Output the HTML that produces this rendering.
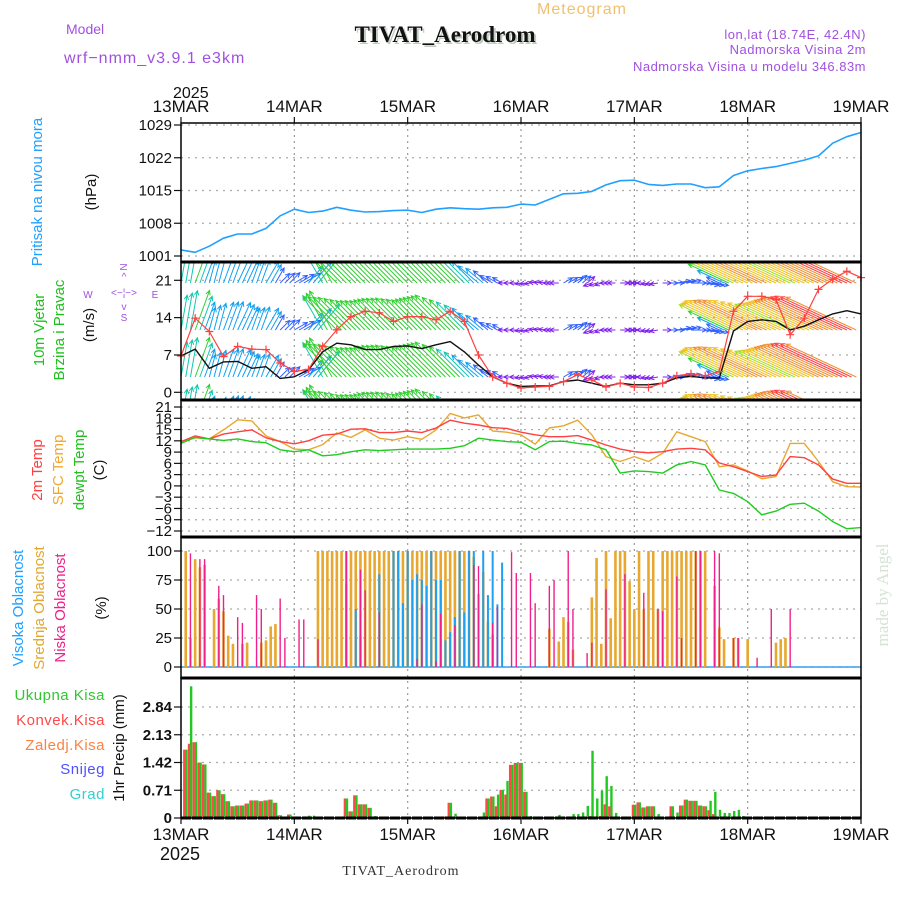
<!DOCTYPE html>
<html><head><meta charset="utf-8"><style>
html,body{margin:0;padding:0;background:#fff;}
svg{display:block;font-family:"Liberation Sans",sans-serif;}
</style></head><body>
<svg id="chart" width="900" height="900" viewBox="0 0 900 900" xmlns="http://www.w3.org/2000/svg">
<defs>
<clipPath id="clipWind"><rect x="181" y="263" width="680" height="136"/></clipPath>
</defs>
<!-- header -->
<text x="582" y="14" font-size="16" fill="#f0c070" text-anchor="middle" letter-spacing="1">Meteogram</text>
<text x="66" y="34" font-size="14" fill="#a050e0">Model</text>
<text x="64" y="63" font-size="16" fill="#a050e0" letter-spacing="1">wrf−nmm_v3.9.1 e3km</text>
<text x="447" y="44" font-size="23" font-weight="bold" font-family="Liberation Serif,serif" fill="#9a9" text-anchor="middle" opacity="0.6">TIVAT_Aerodrom</text>
<text x="445" y="42" font-size="23" font-weight="bold" font-family="Liberation Serif,serif" fill="#111" text-anchor="middle">TIVAT_Aerodrom</text>
<text x="866" y="39" font-size="13" fill="#a050e0" text-anchor="end" letter-spacing="0.5">lon,lat (18.74E, 42.4N)</text>
<text x="866" y="54" font-size="13" fill="#a050e0" text-anchor="end" letter-spacing="0.5">Nadmorska Visina 2m</text>
<text x="866" y="71" font-size="13" fill="#a050e0" text-anchor="end" letter-spacing="0.5">Nadmorska Visina u modelu 346.83m</text>
<text x="173" y="98" font-size="16" fill="#111">2025</text>
<text x="180" y="860" font-size="18" fill="#111" text-anchor="middle">2025</text>
<text x="401" y="875" font-size="14" font-family="Liberation Serif,serif" fill="#333" text-anchor="middle" letter-spacing="1">TIVAT_Aerodrom</text>
<text transform="translate(888,595) rotate(-90)" font-size="17" font-family="Liberation Serif,serif" fill="#d5e3d5" text-anchor="middle">made by Angel</text>

<!-- left axis labels -->
<text transform="translate(42,192) rotate(-90)" font-size="15" fill="#20a0ff" text-anchor="middle">Pritisak na nivou mora</text>
<text transform="translate(96,192) rotate(-90)" font-size="15" fill="#111" text-anchor="middle">(hPa)</text>
<text transform="translate(44,330) rotate(-90)" font-size="15" fill="#20c020" text-anchor="middle">10m Vjetar</text>
<text transform="translate(64,330) rotate(-90)" font-size="15" fill="#20c020" text-anchor="middle">Brzina i Pravac</text>
<text transform="translate(94,325) rotate(-90)" font-size="15" fill="#111" text-anchor="middle">(m/s)</text>
<g fill="#a050e0" font-size="10">
<text x="124" y="270" text-anchor="middle" transform="rotate(-90 124 267)">N</text>
<text x="124" y="280" text-anchor="middle">^</text>
<text x="124" y="296" text-anchor="middle">&lt;−¦−&gt;</text>
<text x="88" y="298" text-anchor="middle">W</text>
<text x="155" y="298" text-anchor="middle">E</text>
<text x="124" y="310" text-anchor="middle">v</text>
<text x="124" y="321" text-anchor="middle">S</text>
</g>
<text transform="translate(42,470) rotate(-90)" font-size="15" fill="#ff4040" text-anchor="middle">2m Temp</text>
<text transform="translate(63,470) rotate(-90)" font-size="15" fill="#f0a830" text-anchor="middle">SFC Temp</text>
<text transform="translate(84,470) rotate(-90)" font-size="15" fill="#20c020" text-anchor="middle">dewpt Temp</text>
<text transform="translate(104,470) rotate(-90)" font-size="15" fill="#111" text-anchor="middle">(C)</text>
<text transform="translate(23,608) rotate(-90)" font-size="15" fill="#20a0ff" text-anchor="middle">Visoka Oblacnost</text>
<text transform="translate(44,608) rotate(-90)" font-size="15" fill="#e0a830" text-anchor="middle">Srednja Oblacnost</text>
<text transform="translate(65,608) rotate(-90)" font-size="15" fill="#f0208a" text-anchor="middle">Niska Oblacnost</text>
<text transform="translate(106,608) rotate(-90)" font-size="15" fill="#111" text-anchor="middle">(%)</text>
<g font-size="15" text-anchor="end" letter-spacing="0.5">
<text x="105" y="700" fill="#30c830">Ukupna Kisa</text>
<text x="105" y="725" fill="#ff4848">Konvek.Kisa</text>
<text x="105" y="750" fill="#ff8040">Zaledj.Kisa</text>
<text x="105" y="774" fill="#5050ff">Snijeg</text>
<text x="105" y="799" fill="#30d0d0">Grad</text>
</g>
<text transform="translate(124,748) rotate(-90)" font-size="15" fill="#111" text-anchor="middle">1hr Precip (mm)</text>

<g id="grid"></g>
<g id="marks"></g>
<g id="frames"></g>
</svg>
<script>
// ---- data ----
const dayLabels = ["13MAR","14MAR","15MAR","16MAR","17MAR","18MAR","19MAR"];
const hours3 = [0,3,6,9,12,15,18,21,24,27,30,33,36,39,42,45,48,51,54,57,60,63,66,69,72,75,78,81,84,87,90,93,96,99,102,105,108,111,114,117,120,123,126,129,132,135,138,141,144];
const pressure = [1002.3,1001.8,1003.1,1004.8,1005.7,1005.7,1006.9,1009.6,1011.0,1010.3,1010.6,1011.4,1010.8,1010.4,1010.5,1010.7,1010.8,1010.3,1011.0,1011.3,1011.1,1011.0,1011.3,1011.4,1012.1,1011.9,1013.1,1014.3,1014.4,1014.8,1016.2,1017.1,1017.2,1016.3,1016.1,1016.4,1016.4,1015.6,1015.8,1018.2,1019.2,1019.7,1020.1,1020.8,1021.5,1022.4,1025.1,1026.5,1027.4];
const pressureTicks = [1001,1008,1015,1022,1029];
const windSpeed = [6.8,8.1,4.5,5.7,5.8,4.5,4.8,2.6,2.9,4.2,7.6,9.2,8.9,8.0,8.0,8.6,8.7,8.2,8.9,9.5,7.6,5.1,2.9,1.7,1.1,1.2,1.2,2.0,2.3,1.7,1.1,1.7,1.4,1.4,1.7,2.7,3.0,2.7,2.7,11.5,13.3,13.6,13.3,11.7,12.4,13.6,14.7,15.3,14.7];
const windGust = [6.8,13.9,11.4,6.7,8.6,8.1,8.0,5.5,3.9,4.3,8.6,11.7,14.2,15.2,14.9,13.3,14.2,14.2,13.6,15.2,13.3,7.0,2.9,1.7,0.8,1.0,1.1,2.0,3.3,2.3,1.0,1.7,1.0,0.9,1.7,3.1,3.5,3.1,3.9,15.2,18.0,18.0,17.4,10.8,13.9,19.3,21.2,22.7,21.5];
const windDir = [10,20,15,20,25,20,30,45,60,40,330,315,315,315,315,315,315,315,315,315,315,310,300,270,260,280,270,60,50,250,270,90,270,260,90,80,90,100,295,295,295,295,295,295,295,295,295,295,295];
const windTicks = [0,7,14,21];
const temp2m = [11.8,13.3,12.5,13.8,14.4,14.9,12.8,11.8,11.2,12.0,13.5,13.8,15.1,15.2,14.2,14.2,14.6,14.2,15.4,17.5,16.7,16.2,15.5,15.3,14.3,13.6,13.1,13.1,13.4,12.2,10.9,9.8,9.1,8.8,9.1,9.8,10.0,9.6,6.1,5.1,3.8,2.5,2.9,7.8,7.5,5.6,1.8,0.7,0.7];
const tempSfc = [11.8,12.8,12.5,14.9,17.6,17.3,13.3,11.8,9.8,9.6,11.0,14.1,12.9,14.9,12.7,12.2,13.1,12.4,14.9,19.3,18.1,18.9,14.6,14.3,13.6,11.1,15.4,16.0,17.5,13.6,7.8,6.5,7.8,6.5,8.7,14.4,13.1,11.8,5.1,5.6,4.0,1.9,2.5,11.3,11.3,6.5,1.1,-0.2,-0.3];
const tempDew = [11.3,12.9,12.5,12.1,12.5,11.8,11.5,9.6,9.1,9.6,8.0,8.3,9.1,9.6,9.4,9.6,9.8,9.8,9.8,10.0,10.7,12.7,12.2,11.8,11.6,9.6,11.8,11.9,11.3,10.9,9.6,3.4,4.0,3.8,3.4,5.6,6.5,5.6,-1.1,-2.0,-4.2,-7.7,-6.7,-4.9,-4.6,-6.7,-9.5,-11.4,-11.1];
const tempTicks = [-12,-9,-6,-3,0,3,6,9,12,15,18,21];
const cloudTicks = [0,25,50,75,100];
const midHours = [1,3,4,5,7,8,9,10,11,13,14,17,18,19,20,29,30,31,32,33,34,35,36,37,38,39,40,41,42,43,44,45,46,47,48,49,50,51,52,53,54,55,56,57,58,59,60,61,62,64,65,66,78,80,81,82,83,87,88,89,90,91,92,93,94,95,96,97,98,99,100,101,102,103,104,105,106,107,108,109,110,111,113,114,115,117,118,120,126,127,128];
const midVals  = [100,93,86,88,50,59,48,27,20,20,21,21,23,35,37,100,100,100,100,100,100,100,100,100,100,100,100,100,100,100,100,100,100,100,100,100,100,100,100,100,100,100,100,100,100,100,100,100,95,82,39,28,33,22,43,39,15,60,94,20,100,42,100,100,100,74,50,100,50,100,100,50,100,100,100,100,100,100,100,100,100,100,70,34,24,25,25,24,21,24,25];
const highHours = [2,35,37,38,42,45,46,47,48,49,50,51,52,53,54,55,56,57,58,59,60,61,62,63,64,65,66,67,68];
const highVals  = [25,72,50,27,80,100,100,55,100,75,80,75,70,100,75,75,23,30,43,100,47,100,100,63,100,62,100,54,90];
const lowHours = [2,4,5,8,9,12,13,16,17,21,22,25,26,29,35,38,39,42,50,51,54,55,58,62,63,66,67,70,71,74,75,78,79,82,83,86,87,90,94,98,101,102,105,106,109,110,113,114,117,118,122,125,129];
const lowVals  = [98,93,93,70,62,43,38,62,50,59,25,41,41,24,100,84,66,47,7,54,5,46,36,88,87,38,52,99,81,81,55,70,75,100,50,12,21,67,80,64,50,48,78,25,100,100,100,98,25,25,8,50,50];
const precipTotal = [0,1.75,3.37,1.94,1.42,1.37,0.65,0.56,0.71,0.61,0.43,0.30,0.32,0.32,0.37,0.45,0.45,0.43,0.45,0.47,0.39,0.07,0,0.09,0,0,0.04,0.06,0.06,0,0,0,0,0,0,0.5,0.17,0.58,0.35,0.35,0.26,0.05,0,0,0,0,0,0,0,0,0,0,0,0,0,0,0.04,0.39,0.11,0,0,0,0,0.03,0.14,0.5,0.55,0.6,0.72,0.95,1.36,1.41,1.41,0.67,0.05,0.03,0,0,0,0.03,0.08,0.04,0.04,0.1,0.1,0.14,0.31,1.72,0.5,0.7,1.07,0.82,0.13,0,0,0,0.34,0.4,0.27,0.3,0.3,0.1,0.03,0,0.3,0.14,0.32,0.47,0.44,0.44,0.32,0.3,0.44,0.67,0.21,0.13,0.13,0.18,0.21,0.05,0,0,0,0,0,0,0,0,0,0,0,0,0,0,0,0,0,0,0,0,0,0,0,0,0];
const precipConv  = [0,1.75,1.9,1.94,1.42,1.37,0.65,0.56,0.71,0.61,0.43,0.30,0.32,0.32,0.37,0.45,0.45,0.43,0.45,0.47,0.39,0.07,0,0.09,0,0,0,0,0,0,0,0,0,0,0,0.5,0.17,0.58,0.35,0.35,0.26,0,0,0,0,0,0,0,0,0,0,0,0,0,0,0,0.04,0.39,0,0,0,0,0,0,0,0.5,0.55,0.3,0.72,0.6,1.36,1.41,1.41,0.67,0,0,0,0,0,0,0,0,0,0,0,0,0,0.05,0,0.05,0.35,0.3,0,0,0,0,0.34,0.4,0.27,0.3,0.3,0,0,0,0.3,0,0.32,0.47,0.44,0.44,0.32,0.3,0.2,0.1,0,0,0,0,0,0,0,0,0,0,0,0,0,0,0,0,0,0,0,0,0,0,0,0,0,0,0,0,0,0,0,0];
const precipTicks = [0,0.71,1.42,2.13,2.84];
const precipTickLabels = ["0","0.71","1.42","2.13","2.84"];

// ---- axes ----
const NS="http://www.w3.org/2000/svg";
const X0=181, X1=861;
const xH = h => X0 + (X1-X0)*h/144;
const yP = v => 125 + (1029-v)*(256-125)/28;
const yW = v => 392.3 - v*(392.3-280.3)/21;
const yT = v => 407 + (21-v)*(531-407)/33;
const yC = v => 667 - v*(667-551)/100;
const yR = v => 818 - v*(818-707)/2.84;
const grid=document.getElementById('grid'), marks=document.getElementById('marks'), frames=document.getElementById('frames');
function mk(tag, attrs, parent){const e=document.createElementNS(NS,tag);for(const k in attrs)e.setAttribute(k,attrs[k]);parent.appendChild(e);return e;}

const panels=[{t:123,b:262},{t:262,b:400},{t:400,b:537},{t:537,b:678},{t:678,b:818}];
// vertical day grid
for(let d=1; d<6; d++){
  const l=mk('line',{x1:xH(d*24),x2:xH(d*24),y1:123,y2:818,stroke:'#999','stroke-dasharray':'2,4','stroke-width':1.2},grid);
  
  
}
function hgrid(ticks, yf, labels, fs, bold){
  ticks.forEach((v,i)=>{
    const y=yf(v);
    const g=mk('line',{x1:X0,x2:X1,y1:y,y2:y,stroke:'#aaa','stroke-dasharray':'2,5','stroke-width':1.2},grid);
    
    
    mk('line',{x1:X0-7,x2:X0,y1:y,y2:y,stroke:'#111','stroke-width':1.2},frames);
    const t=mk('text',{x:X0-9,y:y+5,'font-size':fs,'text-anchor':'end',fill:'#111','font-weight':bold?'bold':'normal'},frames);
    t.textContent = labels ? labels[i] : String(v).replace('-','−');
    
    
  });
}
hgrid(pressureTicks,yP,null,15);
hgrid(windTicks,yW,null,15);
hgrid(tempTicks,yT,null,15);
hgrid(cloudTicks,yC,null,15);
hgrid(precipTicks,yR,precipTickLabels,15,true);

// date labels
dayLabels.forEach((lab,i)=>{
  [112,840].forEach(y=>{
    const t=mk('text',{x:xH(i*24),y:y,'font-size':17,'text-anchor':'middle',fill:'#111'},frames);
    t.textContent=lab;
    
    
  });
  mk('line',{x1:xH(i*24),x2:xH(i*24),y1:117,y2:123,stroke:'#111','stroke-width':1.2},frames);
  mk('line',{x1:xH(i*24),x2:xH(i*24),y1:818,y2:824,stroke:'#111','stroke-width':1.2},frames);
});

// frames
panels.forEach(p=>{
  const r=mk('rect',{x:X0,y:p.t,width:X1-X0,height:p.b-p.t,fill:'none',stroke:'#000','stroke-width':1.5},frames);
  
  
});
[262,400,537,678].forEach(y=>mk('line',{x1:X0,x2:X1,y1:y,y2:y,stroke:'#000','stroke-width':3},frames));
mk('line',{x1:X0,x2:X1,y1:818,y2:818,stroke:'#000','stroke-width':3,'stroke-dasharray':'10,1'},frames);

function line(arr, yf, color, name, w){
  const d=arr.map((v,i)=>(i?'L':'M')+xH(hours3[i]).toFixed(1)+','+yf(v).toFixed(1)).join('');
  const p=mk('path',{d:d,fill:'none',stroke:color,'stroke-width':w||1.4,'stroke-linejoin':'round'},marks);
  
  
  return p;
}
// pressure
line(pressure,yP,'#20a0ff','pressure-line',1.6);

// wind arrows
function spdColor(s){
  if(s<2) return '#8020f0';
  if(s<4) return '#3060ff';
  if(s<6) return '#10a0f0';
  if(s<8) return '#10c8b0';
  if(s<10) return '#30d030';
  if(s<12) return '#a0e020';
  if(s<13.5) return '#f0c020';
  if(s<15) return '#f09030';
  return '#ff4040';
}
const windG=mk('g',{'clip-path':'url(#clipWind)'},marks);


const rowBases=[236,283,330,377,424];
for(let i=0;i<windSpeed.length-1;i++){
  for(let k=0;k<3;k++){
    const h=hours3[i]+k, f=k/3;
    const s=windSpeed[i]*(1-f)+windSpeed[i+1]*f;
    const dir=windDir[i]*Math.PI/180;
    const L=Math.max(6,s*5.2);
    const col=spdColor(s);
    rowBases.forEach(b=>{
      const x=xH(h), x2=x+L*Math.sin(dir), y2=b-L*Math.cos(dir);
      const a=Math.atan2(y2-b,x2-x);
      const hx1=x2-5*Math.cos(a-0.45), hy1=y2-5*Math.sin(a-0.45);
      const hx2=x2-5*Math.cos(a+0.45), hy2=y2-5*Math.sin(a+0.45);
      const p=mk('path',{d:`M${x},${b}L${x2},${y2}M${hx1},${hy1}L${x2},${y2}L${hx2},${hy2}`,stroke:col,'stroke-width':1,fill:'none'},windG);
      
      
    });
  }
}
line(windSpeed,yW,'#111','wind-speed-line',1.4);
line(windGust,yW,'#ff4040','wind-gust-line',1.2);
windGust.forEach((v,i)=>{
  const x=xH(hours3[i]), y=yW(v);
  const p=mk('path',{d:`M${x-4},${y}L${x+4},${y}M${x},${y-4}L${x},${y+4}`,stroke:'#ff4040','stroke-width':1.2},marks);
  
  
});

// temps
line(tempSfc,yT,'#e8a830','sfc-temp-line',1.4);
line(temp2m,yT,'#ff4040','2m-temp-line',1.4);
line(tempDew,yT,'#20cc20','dewpoint-line',1.4);

// clouds
mk('line',{x1:X0,x2:X1,y1:yC(0),y2:yC(0),stroke:'#30a0f0','stroke-width':1.5},marks);
function bars(hs,vs,color,w,off,name){
  hs.forEach((h,i)=>{
    const y=yC(vs[i]);
    const r=mk('rect',{x:xH(h)+off,y:y,width:w,height:yC(0)-y,fill:color},marks);
    
    
  });
}
bars(midHours,midVals,'#e8a830',2.6,-1.3,'mid-cloud-bar');
bars(highHours,highVals,'#20a0f0',2,-1,'high-cloud-bar');
bars(lowHours,lowVals,'#f0208a',1.4,-0.7,'low-cloud-bar');

// precip
precipTotal.forEach((v,h)=>{
  if(v<=0) return;
  const y=yR(v);
  const r=mk('rect',{x:xH(h)-0.5,y:y,width:2.4,height:818-y,fill:'#20c820'},marks);
  
  
});
precipConv.forEach((v,h)=>{
  if(v<=0) return;
  const y=yR(v);
  const r=mk('rect',{x:xH(h)-2.6,y:y,width:2.3,height:818-y,fill:'#ff4848'},marks);
  
  
});
</script>
</body></html>
